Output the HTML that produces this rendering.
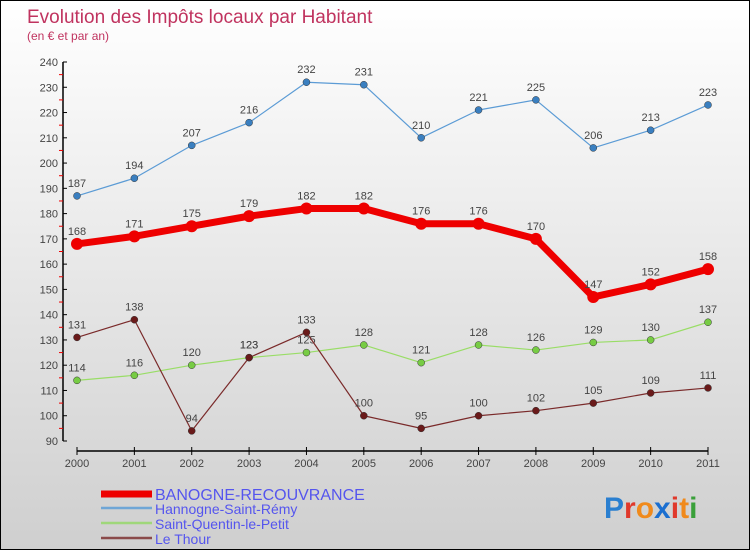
<!DOCTYPE html>
<html><head><meta charset="utf-8"><style>
body{margin:0}
#c{width:750px;height:550px;position:relative;overflow:hidden;box-sizing:border-box;border:1px solid #000;background:linear-gradient(#ffffff,#cfcfcf);font-family:"Liberation Sans",sans-serif}
svg text{font-family:"Liberation Sans",sans-serif}
</style></head><body>
<div id="c">
<svg id="s" width="750" height="550">
<text x="26" y="22" font-size="19" fill="#c0335f">Evolution des Impôts locaux par Habitant</text>
<text x="26" y="39" font-size="12" fill="#c0335f">(en € et par an)</text>
<g id="g"></g>
<text x="603" y="517" font-size="30" font-weight="bold"><tspan fill="#2a7fd0">P</tspan><tspan fill="#e0392b">r</tspan><tspan fill="#f08a1c">o</tspan><tspan fill="#1b6fd0">x</tspan><tspan fill="#e0392b">i</tspan><tspan fill="#f08a1c">t</tspan><tspan fill="#3aa03a">i</tspan></text>
</svg></div>
<script>
const years=[2000,2001,2002,2003,2004,2005,2006,2007,2008,2009,2010,2011];
const yTicks=[90,100,110,120,130,140,150,160,170,180,190,200,210,220,230,240];
const banogne=[168,171,175,179,182,182,176,176,170,147,152,158];
const hannogne=[187,194,207,216,232,231,210,221,225,206,213,223];
const saintQ=[114,116,120,123,125,128,121,128,126,129,130,137];
const thour=[131,138,94,123,133,100,95,100,102,105,109,111];
const series=[
 {name:'Hannogne-Saint-Rémy',d:hannogne,c:'#5b9bd5',pc:'#3a7fc0',w:1.2,r:3.5,id:'hannogne'},
 {name:'Saint-Quentin-le-Petit',d:saintQ,c:'#99dd66',pc:'#77cc44',w:1.2,r:3.5,id:'saint-quentin'},
 {name:'Le Thour',d:thour,c:'#7a2a2a',pc:'#6a1a1a',w:1.2,r:3.5,id:'le-thour'},
 {name:'BANOGNE-RECOUVRANCE',d:banogne,c:'#ee0000',pc:'#ee0000',w:7,r:6,id:'banogne'}];
const X=i=>76+i*(707-76)/11, Y=v=>440-(v-90)*(440-61)/150;
const g=document.getElementById('g'),NS='http://www.w3.org/2000/svg';
function el(t,a,p){const e=document.createElementNS(NS,t);for(const k in a)e.setAttribute(k,a[k]);(p||g).appendChild(e);return e;}
let e=el('line',{x1:62,y1:61,x2:62,y2:440,stroke:'#000','stroke-width':1.5});


yTicks.forEach(v=>{el('line',{x1:62,x2:66,y1:Y(v),y2:Y(v),stroke:'#000'});
 if(v<240)el('line',{x1:58,x2:62,y1:Y(v+5),y2:Y(v+5),stroke:'#e00'});
 const t=el('text',{x:57,y:Y(v)+4,'font-size':11,fill:'#444','text-anchor':'end'});t.textContent=v;
 
 });
e=el('line',{x1:76,y1:450,x2:707,y2:450,stroke:'#000','stroke-width':1.5});


years.forEach((y,i)=>{el('line',{x1:X(i),x2:X(i),y1:446,y2:454,stroke:'#000'});
 const t=el('text',{x:X(i),y:466,'font-size':11,fill:'#444','text-anchor':'middle'});t.textContent=y;
 
 });
series.forEach(s=>{
 const p=el('polyline',{points:s.d.map((v,i)=>X(i)+','+Y(v)).join(' '),fill:'none',stroke:s.c,'stroke-width':s.w,'stroke-linejoin':'round'});
 
 
 s.d.forEach((v,i)=>{const c=el('circle',{cx:X(i),cy:Y(v),r:s.r,fill:s.pc,stroke:'#333','stroke-width':s.w>2?0:0.5});
  
  
  const t=el('text',{x:X(i),y:Y(v)-9,'font-size':11,fill:'#444','text-anchor':'middle'});t.textContent=v;
  
  });
});
const leg=[['BANOGNE-RECOUVRANCE','#ee0000',7,494,16],['Hannogne-Saint-Rémy','#6fa6d6',2.5,508,14],['Saint-Quentin-le-Petit','#9fd77a',2.5,523,14],['Le Thour','#8a4a4a',2.5,538,14]];
leg.forEach(l=>{const r=el('line',{x1:100,x2:151,y1:l[3]-1,y2:l[3]-1,stroke:l[1],'stroke-width':l[2]});
 
 
 const t=el('text',{x:154,y:l[3]+5,'font-size':l[4],fill:'#5555ee'});t.textContent=l[0];
 
 });
</script></body></html>
